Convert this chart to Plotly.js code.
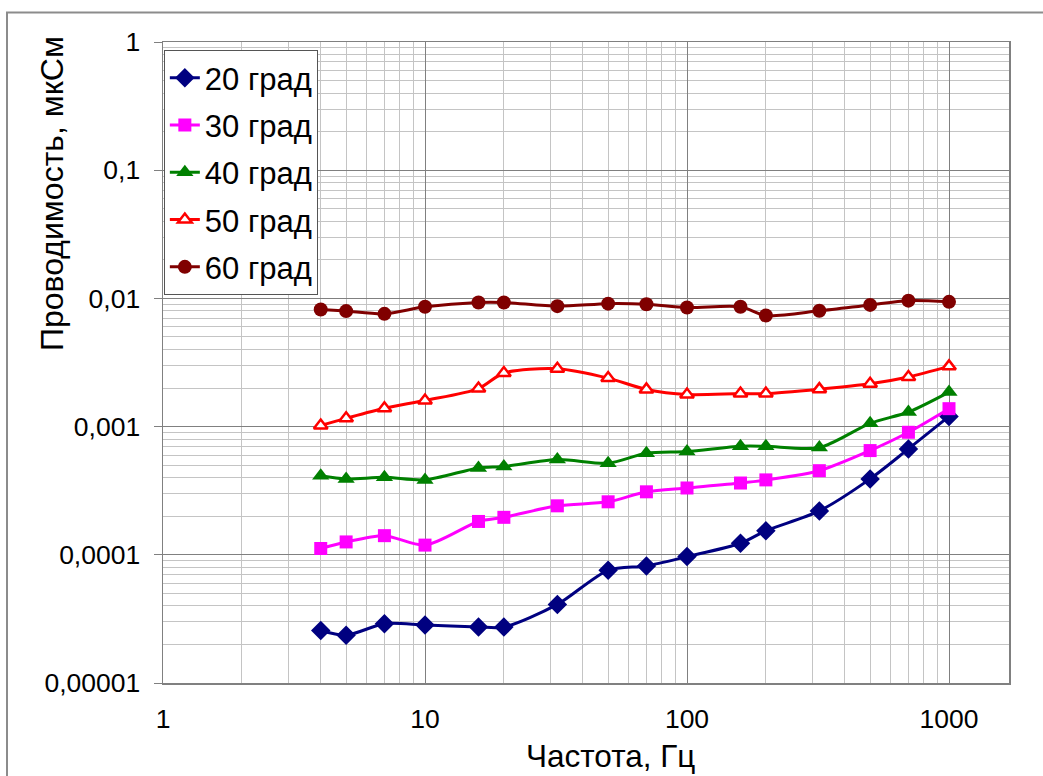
<!DOCTYPE html>
<html>
<head>
<meta charset="utf-8">
<script src="https://cdn.plot.ly/plotly-3.0.1.min.js"></script>
<style>
html,body{margin:0;padding:0;background:#fff;}
#chart{width:1043px;height:776px;}
</style>
</head>
<body>
<div id="chart"></div>
<script>
// Frequencies, Hz
var freq = [4, 5, 7, 10, 16, 20, 32, 50, 70, 100, 160, 200, 320, 500, 700, 1000];
// Conductivity, uS
var g20 = [2.57e-5, 2.36e-5, 2.9e-5, 2.83e-5, 2.74e-5, 2.73e-5, 4.1e-5, 7.57e-5, 8.19e-5, 9.68e-5, 1.23e-4, 1.54e-4, 2.2e-4, 3.91e-4, 6.7e-4, 1.2e-3];
var g30 = [1.12e-4, 1.26e-4, 1.41e-4, 1.19e-4, 1.82e-4, 1.96e-4, 2.41e-4, 2.59e-4, 3.1e-4, 3.32e-4, 3.63e-4, 3.84e-4, 4.53e-4, 6.5e-4, 9.03e-4, 1.38e-3];
var g40 = [4.14e-4, 3.91e-4, 4.02e-4, 3.84e-4, 4.76e-4, 4.88e-4, 5.53e-4, 5.18e-4, 6.19e-4, 6.38e-4, 7.03e-4, 7.03e-4, 6.86e-4, 1.06e-3, 1.3e-3, 1.86e-3];
var g50 = [1.02e-3, 1.16e-3, 1.39e-3, 1.6e-3, 1.98e-3, 2.62e-3, 2.83e-3, 2.39e-3, 1.95e-3, 1.78e-3, 1.81e-3, 1.81e-3, 1.96e-3, 2.16e-3, 2.44e-3, 2.95e-3];
var g60 = [8.2e-3, 7.96e-3, 7.58e-3, 8.6e-3, 9.3e-3, 9.3e-3, 8.7e-3, 9.1e-3, 9.0e-3, 8.5e-3, 8.6e-3, 7.36e-3, 8.0e-3, 8.9e-3, 9.6e-3, 9.4e-3];

var seriesNames = ['20 град', '30 град', '40 град', '50 град', '60 град'];
var xTickVals = [1, 10, 100, 1000];
var xTickText = ['1', '10', '100', '1000'];
var yTickVals = [1, 0.1, 0.01, 0.001, 0.0001, 0.00001];
var yTickText = ['1', '0,1', '0,01', '0,001', '0,0001', '0,00001'];
var xTitle = 'Частота, Гц';
var yTitle = 'Проводимость, мкСм';

var FONT = 'Liberation Sans, Arial, sans-serif';

function tr(y, name, color, symbol, size, fill, lw) {
  return {
    x: freq, y: y, name: name, type: 'scatter', mode: 'lines+markers',
    legendgroup: name,
    line: {color: color, width: 3, shape: 'spline', smoothing: 0.8},
    marker: {symbol: symbol, size: size, color: fill, line: {color: color, width: lw}}
  };
}

var data = [
  tr(g20, seriesNames[0], '#000080', 'diamond', 15, '#000080', 0),
  tr(g30, seriesNames[1], '#ff00ff', 'square', 13, '#ff00ff', 0),
  tr(g40, seriesNames[2], '#008000', 'triangle-up', 15, '#008000', 0),
  tr(g50, seriesNames[3], '#ff0000', 'triangle-up', 12, '#ffffff', 2.5),
  tr(g60, seriesNames[4], '#800000', 'circle', 14, '#800000', 0)
];

var layout = {
  width: 1043, height: 776,
  margin: {l: 163, r: 34, t: 42, b: 93, pad: 0},
  paper_bgcolor: '#ffffff', plot_bgcolor: '#ffffff',
  font: {family: FONT, color: '#000000', size: 26},
  showlegend: true,
  legend: {
    x: 0.001, y: 0.9875, xanchor: 'left', yanchor: 'top',
    bgcolor: '#ffffff', bordercolor: '#555555', borderwidth: 1,
    font: {family: FONT, size: 31, color: '#000000'},
    tracegroupgap: 4, itemwidth: 30
  },
  xaxis: {
    type: 'log', range: [0, 3.229],
    tickvals: xTickVals, ticktext: xTickText,
    ticks: '', ticklabelstandoff: 12,
    showgrid: true, gridcolor: '#808080', gridwidth: 1,
    minor: {dtick: 'D1', showgrid: true, gridcolor: '#c4c4c4', gridwidth: 1, ticks: ''},
    showline: true, linecolor: '#808080', linewidth: 1.5, mirror: true,
    zeroline: false, tickfont: {size: 26.5, family: FONT}
  },
  yaxis: {
    type: 'log', range: [-5, 0],
    tickvals: yTickVals, ticktext: yTickText,
    ticks: 'outside', ticklen: 8, tickcolor: '#808080', tickwidth: 1,
    ticklabelstandoff: 8,
    showgrid: true, gridcolor: '#808080', gridwidth: 1,
    minor: {dtick: 'D1', showgrid: true, gridcolor: '#c4c4c4', gridwidth: 1, ticks: ''},
    showline: true, linecolor: '#808080', linewidth: 1.5, mirror: true,
    zeroline: false, tickfont: {size: 26.5, family: FONT}
  },
  annotations: [
    {text: xTitle, xref: 'paper', yref: 'paper', x: (610 - 163) / 846, y: -(756 - 683) / 641,
     xanchor: 'center', yanchor: 'middle', showarrow: false,
     font: {family: FONT, size: 31.5, color: '#000'}},
    {text: yTitle, xref: 'paper', yref: 'paper', x: (52 - 163) / 846, y: (683 - 194) / 641,
     xanchor: 'center', yanchor: 'middle', showarrow: false, textangle: -90,
     font: {family: FONT, size: 32, color: '#000'}}
  ],
  shapes: [
    {type: 'rect', xref: 'paper', yref: 'paper',
     x0: (7 - 163) / 846, x1: (1060 - 163) / 846,
     y0: (683 - 800) / 641, y1: (683 - 12.5) / 641,
     line: {color: '#8c8c8c', width: 2}, fillcolor: 'rgba(0,0,0,0)', layer: 'below'}
  ]
};

Plotly.newPlot('chart', data, layout, {displayModeBar: false, staticPlot: true});
</script>
</body>
</html>
